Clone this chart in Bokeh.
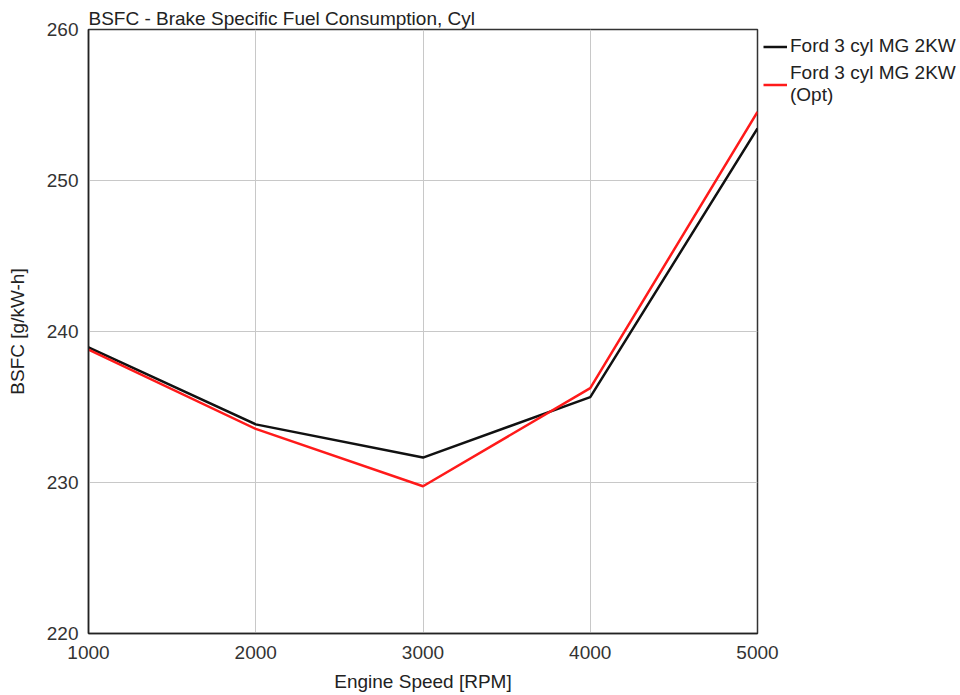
from bokeh.plotting import figure
from bokeh.models import Legend, LegendItem, Range1d, FixedTicker
from bokeh.embed import file_html
from bokeh.resources import INLINE

rpm = [1000, 2000, 3000, 4000, 5000]
bsfc_base = [238.95, 233.85, 231.65, 235.65, 253.45]
bsfc_opt = [238.8, 233.55, 229.75, 236.25, 254.55]
label_base = "Ford 3 cyl MG 2KW"
label_opt = "Ford 3 cyl MG 2KW\n(Opt)"
x_ticks = [1000, 2000, 3000, 4000, 5000]
y_ticks = [220, 230, 240, 250, 260]

FONT = "Liberation Sans"
FS = "19px"

p = figure(frame_width=669, frame_height=604, output_backend="svg", toolbar_location=None,
           x_range=Range1d(1000, 5000), y_range=Range1d(220, 260),
           min_border_left=88, min_border_right=195, min_border_top=29, min_border_bottom=62,
           title="BSFC - Brake Specific Fuel Consumption, Cyl")

p.title.text_font = FONT
p.title.text_font_size = FS
p.title.text_font_style = "normal"
p.title.text_color = "#222222"
p.title.align = "left"
p.title.offset = 0
p.title.standoff = 1

p.outline_line_color = "#333333"
p.outline_line_width = 1.5
p.background_fill_color = "white"
p.border_fill_color = "white"

p.xaxis.ticker = FixedTicker(ticks=x_ticks)
p.yaxis.ticker = FixedTicker(ticks=y_ticks)
for ax in (p.xaxis[0], p.yaxis[0]):
    ax.major_tick_line_color = None
    ax.minor_tick_line_color = None
    ax.axis_line_color = "#222222"
    ax.axis_line_width = 1.5
    ax.major_label_text_font = FONT
    ax.major_label_text_font_size = FS
    ax.major_label_text_color = "#333333"
    ax.axis_label_text_font = FONT
    ax.axis_label_text_font_size = FS
    ax.axis_label_text_font_style = "normal"
    ax.axis_label_text_color = "#222222"
p.xaxis.axis_label = "Engine Speed [RPM]"
p.yaxis.axis_label = "BSFC [g/kW-h]"
p.xaxis.major_label_standoff = 6
p.yaxis.major_label_standoff = 4
p.xaxis.axis_label_standoff = 9
p.yaxis.axis_label_standoff = 16

p.xgrid.grid_line_color = "#c8c8c8"
p.ygrid.grid_line_color = "#c8c8c8"
p.xgrid.grid_line_width = 1
p.ygrid.grid_line_width = 1

r1 = p.line(rpm, bsfc_base, line_color="#111111", line_width=2.5)
r2 = p.line(rpm, bsfc_opt, line_color="#ff1a1a", line_width=2.5)

legend = Legend(items=[LegendItem(label=label_base, renderers=[r1]),
                       LegendItem(label=label_opt, renderers=[r2])],
                location="top_left", border_line_color=None, background_fill_alpha=0,
                label_text_font=FONT, label_text_font_size=FS, label_text_color="#222222",
                label_text_line_height=1.25,
                glyph_width=24, glyph_height=19, label_standoff=3, spacing=5,
                padding=6, margin=6, label_height=19)
p.add_layout(legend, "right")

open("out.html", "w").write(file_html(p, INLINE))
